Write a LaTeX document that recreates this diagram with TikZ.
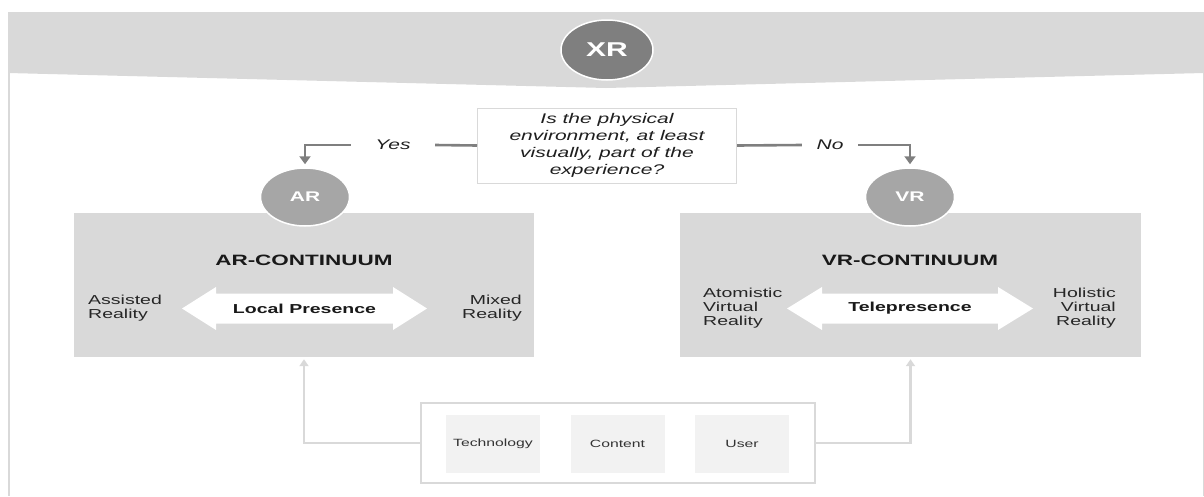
\documentclass[tikz,border=0pt]{standalone}
\usepackage{fontspec}
\setmainfont{Liberation Sans}[FakeStretch=1.5]
\usetikzlibrary{arrows.meta,shapes.geometric}
\definecolor{band}{HTML}{D9D9D9}
\definecolor{xrgray}{HTML}{7F7F7F}
\definecolor{cgray}{HTML}{A6A6A6}
\definecolor{innerfill}{HTML}{F2F2F2}
\definecolor{txt}{HTML}{1F1F1F}
\definecolor{ltxt}{HTML}{333333}
\begin{document}
\begin{tikzpicture}[x=1pt,y=-1pt,
  contbox/.style={fill=band, draw=none, minimum width=460pt, minimum height=144pt, inner sep=0pt},
  bigell/.style={ellipse, fill=xrgray, draw=white, line width=1.5pt, minimum width=92pt, minimum height=60pt, inner sep=0pt, text=white, font=\bfseries\fontsize{20}{24}\selectfont},
  smallell/.style={ellipse, fill=cgray, draw=white, line width=1.5pt, minimum width=89pt, minimum height=58pt, inner sep=0pt, text=white, font=\bfseries\fontsize{14}{16}\selectfont},
  qbox/.style={draw=band, line width=1pt, fill=white, minimum width=259pt, minimum height=75pt, align=center, inner sep=0pt, text=txt, font=\itshape\fontsize{14}{17}\selectfont},
  lbl/.style={inner sep=0pt, minimum height=10pt, text=txt, font=\itshape\fontsize{14}{16}\selectfont},
  qarrow/.style={draw=xrgray, line width=2.6pt},
  qtip/.style={-{Triangle[width=11pt,length=8pt]}, shorten >=3pt},
  headtxt/.style={inner sep=0pt, text=black!90, font=\bfseries\fontsize{15}{18}\selectfont},
  midtxt/.style={inner sep=0pt, text=black!90, font=\bfseries\fontsize{13}{15}\selectfont},
  sidetxt/.style={inner sep=0pt, text=black!85, font=\fontsize{13}{14}\selectfont},
  outbox/.style={draw=band, line width=2pt, fill=white, minimum width=394pt, minimum height=80pt, inner sep=0pt},
  inbox/.style={fill=innerfill, draw=none, minimum width=94pt, minimum height=58pt, inner sep=0pt, text=ltxt, font=\fontsize{10.5}{12}\selectfont},
  botarrow/.style={draw=band, line width=2.6pt, -{Triangle[width=9pt,length=7pt]}, shorten >=2pt}
]
\useasboundingbox (0,0) rectangle (1204,496);
% frame and top band
\fill[band] (8,12) -- (1204,12) -- (1204,73) -- (606,88) -- (8,73) -- cycle;
\draw[band, line width=2pt] (9,12) -- (9,496);
\draw[band, line width=1pt] (1203,73) -- (1203,496);
\node[bigell] (xr) at (607,50) {XR};
% question
\node[qbox] (q) at (607,145.5) {Is the physical\\environment, at least\\visually, part of the\\experience?};
\node[lbl, minimum width=84pt] (yes) at (393,145) {Yes};
\node[lbl, minimum width=56pt] (no) at (830,145) {No};
% continuum boxes
\node[contbox] (arbox) at (304,285) {};
\node[contbox, minimum width=461pt] (vrbox) at (910.5,285) {};
\node[smallell] (ar) at (305,197) {AR};
\node[smallell] (vr) at (910,197) {VR};
\draw[qarrow] (q.west) -- (yes.east);
\draw[qarrow, qtip] (yes.west) -| (ar.north);
\draw[qarrow] (q.east) -- (no.west);
\draw[qarrow, qtip] (no.east) -| (vr.north);
% double arrows
\fill[white] (182,308.5) -- (216,287) -- (216,293.5) -- (393,293.5) -- (393,287) -- (427,308.5) -- (393,330) -- (393,323.5) -- (216,323.5) -- (216,330) -- cycle;
\fill[white] (787,308.5) -- (822,287) -- (822,293.5) -- (998,293.5) -- (998,287) -- (1033,308.5) -- (998,330) -- (998,323.5) -- (822,323.5) -- (822,330) -- cycle;
\node[headtxt] (arh) at (304,260) {AR-CONTINUUM};
\node[headtxt] (vrh) at (910,260) {VR-CONTINUUM};
\node[midtxt] (lp) at (304.5,308.5) {Local Presence};
\node[midtxt] (tp) at (910,308.5) {Telepresence};
\node[sidetxt, anchor=west, align=left] (ass) at (88,308) {Assisted\\Reality};
\node[sidetxt, anchor=east, align=right] (mix) at (522,308) {Mixed\\Reality};
\node[sidetxt, anchor=west, align=left] (atom) at (703,308.5) {Atomistic\\Virtual\\Reality};
\node[sidetxt, anchor=east, align=right] (hol) at (1116,308.5) {Holistic\\Virtual\\Reality};
% bottom box
\node[outbox] (bot) at (618,443) {};
\node[inbox] (tech) at (493,443.5) {Technology};
\node[inbox] (cont) at (617.5,443.5) {Content};
\node[inbox] (user) at (742,443.5) {User};
\draw[botarrow] (bot.west) -| (arbox.south);
\draw[botarrow] (bot.east) -| (vrbox.south);
\end{tikzpicture}
\end{document}
